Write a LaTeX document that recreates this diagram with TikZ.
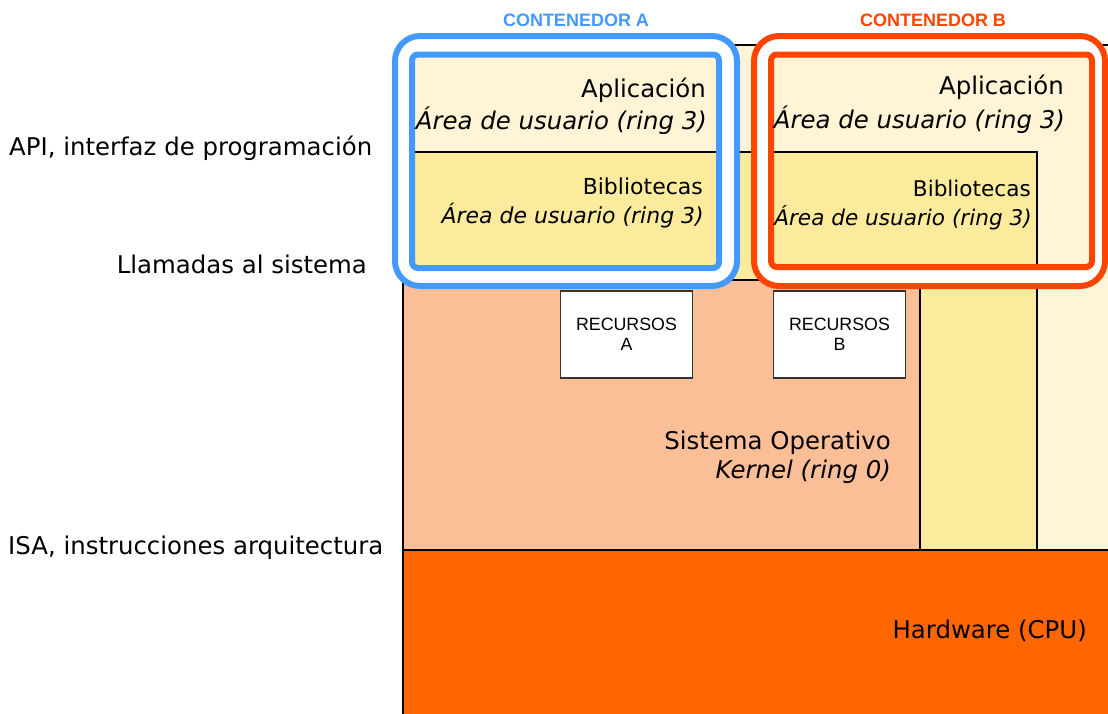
\documentclass[tikz,border=0pt]{standalone}
\usepackage{fontspec}
\setmainfont{DejaVu Sans}
\newfontfamily\arialf{Liberation Sans}
\definecolor{appc}{HTML}{FFF5D6}
\definecolor{libc}{HTML}{FCEB9C}
\definecolor{kerc}{HTML}{FBBF97}
\definecolor{hwc}{HTML}{FF6600}
\definecolor{cA}{HTML}{4499FF}
\definecolor{cB}{HTML}{FF4400}
\tikzset{
  layer/.style={draw=black, line width=1.3},
  res/.style={draw=black!80, line width=1.3, fill=white, minimum width=132, minimum height=87, align=center, inner sep=0, font=\arialf\fontsize{17.8}{20}\selectfont},
  big/.style={inner sep=0, anchor=base east, font=\fontsize{24.4}{28}\selectfont},
  bigi/.style={inner sep=0, anchor=base east, font=\fontsize{24.4}{28}\selectfont\itshape},
  mid/.style={inner sep=0, anchor=base east, font=\fontsize{22}{26}\selectfont},
  midi/.style={inner sep=0, anchor=base east, font=\fontsize{22}{26}\selectfont\itshape},
  midb/.style={inner sep=0, anchor=base east, font=\fontsize{21.6}{26}\selectfont},
  midbi/.style={inner sep=0, anchor=base east, font=\fontsize{21.6}{26}\selectfont\itshape},
  side/.style={inner sep=0, font=\fontsize{24.4}{28}\selectfont},
  ctitle/.style={inner sep=0, anchor=base, font=\arialf\bfseries\fontsize{18}{20}\selectfont},
  ring/.style={line width=6}
}
\begin{document}
\begin{tikzpicture}[x=1pt,y=-1pt]
\useasboundingbox (0,0) rectangle (1108,713);
% layers
\draw[layer, fill=appc] (403,45) rectangle (1120,560);
\draw[layer, fill=libc] (403,152) rectangle (1037,550);
\draw[layer, fill=kerc] (403,280) rectangle (920,550);
\draw[layer, fill=hwc] (403,550) rectangle (1120,725);
% resources
\node[res] (resA) at (626.5,334.5) {RECURSOS\\A};
\node[res] (resB) at (839.5,334.5) {RECURSOS\\B};
% containers
\fill[white, even odd rule] [rounded corners=25] (395,36) rectangle (737,286) [rounded corners=6] (412,54.5) rectangle (719,268);
\draw[cA, ring, rounded corners=25] (395,36) rectangle (737,286);
\draw[cA, ring, rounded corners=6] (412,54.5) rectangle (719,268);
\fill[white, even odd rule] [rounded corners=25] (754,36) rectangle (1105,286) [rounded corners=6] (771,54.5) rectangle (1092,267);
\draw[cB, ring, rounded corners=25] (754,36) rectangle (1105,286);
\draw[cB, ring, rounded corners=6] (771,54.5) rectangle (1092,267);
% titles
\node[ctitle, text=cA] (titA) at (576,26) {CONTENEDOR A};
\node[ctitle, text=cB] (titB) at (933,26) {CONTENEDOR B};
% texts container A
\node[big] (appA1) at (706,97) {Aplicación};
\node[bigi] (appA2) at (707,129) {Área de usuario (ring 3)};
\node[mid] (libA1) at (703,194) {Bibliotecas};
\node[midi] (libA2) at (704,223) {Área de usuario (ring 3)};
% texts container B
\node[big] (appB1) at (1064,94) {Aplicación};
\node[bigi] (appB2) at (1065,128) {Área de usuario (ring 3)};
\node[midb] (libB1) at (1031,196) {Bibliotecas};
\node[midbi] (libB2) at (1032,225) {Área de usuario (ring 3)};
% kernel and hardware
\node[big] (kern1) at (891,449) {Sistema Operativo};
\node[bigi] (kern2) at (891,478) {Kernel (ring 0)};
\node[big] (hw) at (1087,638) {Hardware (CPU)};
% side labels
\node[side, anchor=base west] (api) at (9,155) {API, interfaz de programación};
\node[side, anchor=base east] (sys) at (367,273) {Llamadas al sistema};
\node[side, anchor=base west] (isa) at (8,554) {ISA, instrucciones arquitectura};
\end{tikzpicture}
\end{document}
